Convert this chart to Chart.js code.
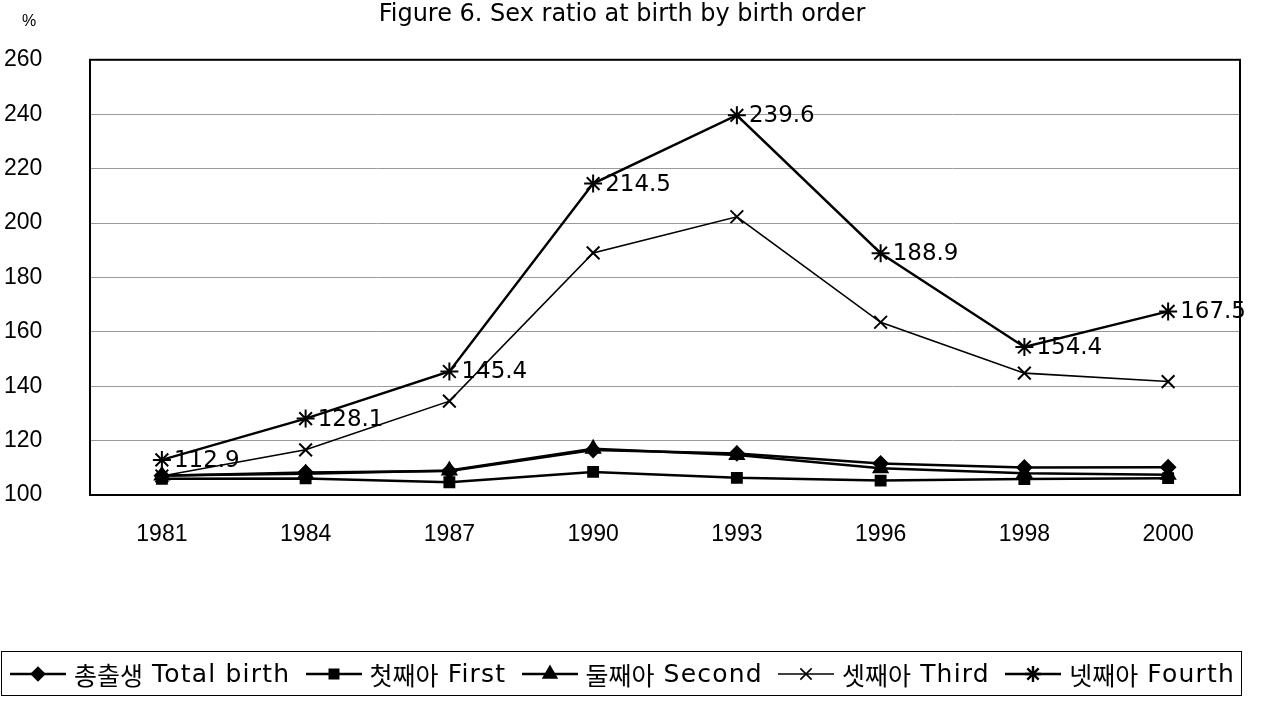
<!DOCTYPE html>
<html>
<head>
<meta charset="utf-8">
<script src="https://cdn.jsdelivr.net/npm/chart.js@4/dist/chart.umd.min.js"></script>
<style>
  html, body { margin: 0; padding: 0; background: #fff; }
  #wrap { width: 1262px; height: 711px; position: relative; }
  .chart-legend {
      position: absolute;
      left: 1px;
      top: 651px;
      width: 1225px;
      height: 43px;
      padding: 0 6px 0 8px;
      border: 1px solid #000;
      display: flex;
      align-items: center;
      justify-content: space-between;
      font-family: "DejaVu Sans", "Noto Sans CJK KR", sans-serif;
      font-size: 25px;
      color: #000;
      white-space: nowrap;
  }
  .chart-legend .item { display: flex; align-items: center; }
  .chart-legend canvas { margin-right: 8px; }
  .chart-legend .ko { margin-right: 9px; }
  .chart-legend .latin { letter-spacing: 1.2px; }
</style>
</head>
<body>
<div id="wrap">
  <canvas id="ratioChart"></canvas>
  <div class="chart-legend" id="legend"></div>
</div>
<script>
// Data
const years = ['1981', '1984', '1987', '1990', '1993', '1996', '1998', '2000'];
const totalBirth = [107.1, 108.3, 108.8, 116.5, 115.3, 111.6, 110.1, 110.2];
const firstBirth = [106.0, 106.1, 104.7, 108.5, 106.3, 105.3, 105.9, 106.2];
const secondBirth = [107.2, 107.8, 109.0, 117.0, 114.7, 109.8, 108.0, 107.4];
const thirdBirth = [107.0, 116.6, 134.5, 189.0, 202.3, 163.5, 144.8, 141.7];
const fourthBirth = [112.9, 128.1, 145.4, 214.5, 239.6, 188.9, 154.4, 167.5];
const seriesNames = ['총출생 Total birth', '첫째아 First', '둘째아 Second', '셋째아 Third', '넷째아 Fourth'];
const yTicks = [100, 120, 140, 160, 180, 200, 220, 240, 260];

const SANS = '"Liberation Sans", "Noto Sans CJK KR", Arial, sans-serif';
const WIDE = '"DejaVu Sans", "Noto Sans CJK KR", sans-serif';

const styles = [
    { style: 'rectRot', radius: 7, width: 2.5 },
    { style: 'rect', radius: 7, width: 2.5 },
    { style: 'triangle', radius: 8, width: 2.5 },
    { style: 'crossRot', radius: 9, width: 1.6 },
    { style: 'star', radius: 9, width: 2.4 }
];
const values = [totalBirth, firstBirth, secondBirth, thirdBirth, fourthBirth];

const datasets = values.map((data, i) => ({
    label: seriesNames[i],
    data: data,
    borderColor: '#000',
    backgroundColor: '#000',
    borderWidth: styles[i].width,
    pointStyle: styles[i].style,
    pointRadius: styles[i].radius,
    pointBorderWidth: 2,
    pointBackgroundColor: '#000',
    pointBorderColor: '#000',
    tension: 0,
    fill: false
}));

// Value labels on the Fourth series, plus frame and % sign
const decorPlugin = {
    id: 'decor',
    afterDatasetsDraw(chart) {
        const ctx = chart.ctx;
        const meta = chart.getDatasetMeta(4);
        ctx.save();
        ctx.font = '23px ' + WIDE;
        ctx.fillStyle = '#000';
        ctx.textAlign = 'left';
        ctx.textBaseline = 'middle';
        meta.data.forEach((pt, i) => {
            ctx.fillText(fourthBirth[i].toFixed(1), pt.x + 12, pt.y + 1);
        });
        ctx.restore();
    },
    afterDraw(chart) {
        const ctx = chart.ctx;
        const a = chart.chartArea;
        ctx.save();
        ctx.strokeStyle = '#000';
        ctx.lineWidth = 2;
        ctx.strokeRect(a.left, a.top, a.right - a.left, a.bottom - a.top);

        ctx.font = '16px ' + SANS;
        ctx.fillStyle = '#000';
        ctx.textAlign = 'left';
        ctx.textBaseline = 'middle';
        ctx.fillText('%', 22, 22);
        ctx.restore();
    }
};

const ctx = document.getElementById('ratioChart').getContext('2d');
const ratioChart = new Chart(ctx, {
    type: 'line',
    data: { labels: years, datasets: datasets },
    plugins: [decorPlugin],
    options: {
        responsive: true,
        maintainAspectRatio: false,
        animation: false,
        layout: { padding: { left: 4, right: 22, top: 0, bottom: 0 } },
        plugins: {
            title: {
                display: true,
                text: 'Figure 6. Sex ratio at birth by birth order',
                color: '#000',
                font: { family: WIDE, size: 24, weight: 'normal' },
                padding: { top: 0, bottom: 31 }
            },
            legend: { display: false },
            tooltip: { enabled: false }
        },
        scales: {
            x: {
                offset: true,
                grid: { display: false },
                border: { display: false },
                ticks: {
                    color: '#000',
                    font: { family: SANS, size: 23 },
                    padding: 18
                },
                afterFit(scale) {
                    scale.height = 216;
                }
            },
            y: {
                min: 100,
                max: 260,
                afterBuildTicks(scale) {
                    scale.ticks = yTicks.map(v => ({ value: v }));
                },
                grid: { color: '#9a9a9a', lineWidth: 1, drawTicks: false },
                border: { display: false },
                ticks: {
                    color: '#000',
                    font: { family: SANS, size: 23 },
                    crossAlign: 'far',
                    padding: 8
                },
                afterFit(scale) {
                    scale.width = 86;
                }
            }
        }
    }
});

// Legend: line-with-marker icon followed by the series name
const legendEl = document.getElementById('legend');
ratioChart.data.datasets.forEach((ds, i) => {
    const item = document.createElement('div');
    item.className = 'item';

    const icon = document.createElement('canvas');
    icon.width = 56;
    icon.height = 22;
    const ic = icon.getContext('2d');
    ic.strokeStyle = '#000';
    ic.fillStyle = '#000';
    ic.lineWidth = styles[i].width;
    ic.beginPath();
    ic.moveTo(0, 11);
    ic.lineTo(56, 11);
    ic.stroke();
    Chart.helpers.drawPoint(ic, { pointStyle: styles[i].style, radius: styles[i].radius - 1, rotation: 0, borderWidth: 2 }, 28, 11);
    item.appendChild(icon);

    const parts = ds.label.split(' ');
    const ko = document.createElement('span');
    ko.className = 'ko';
    ko.textContent = parts[0];
    const en = document.createElement('span');
    en.className = 'latin';
    en.textContent = parts.slice(1).join(' ');
    item.appendChild(ko);
    item.appendChild(en);
    legendEl.appendChild(item);
});
</script>
</body>
</html>
